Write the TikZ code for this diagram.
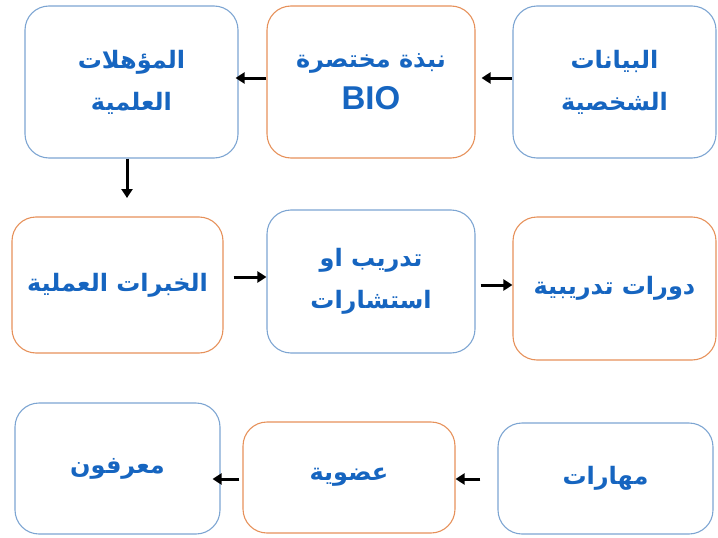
\documentclass[tikz,border=0pt]{standalone}
\usepackage{fontspec}
\usetikzlibrary{arrows.meta,calc}
\TeXXeTstate=1
\newfontfamily\arabicfont[Script=Arabic]{DejaVu Sans}
\newfontfamily\latinfont{Liberation Sans}
\definecolor{txtblue}{RGB}{22,101,192}
\definecolor{bblue}{RGB}{125,165,210}
\definecolor{borange}{RGB}{230,145,90}
\tikzset{
  box/.style={draw, rounded corners=24pt, line width=1.1pt, inner sep=0pt,
    align=center, text=txtblue,
    font=\arabicfont\bfseries\fontsize{24}{42}\selectfont},
  bluebox/.style={box, draw=bblue},
  orangebox/.style={box, draw=borange},
  arr/.style={line width=3pt, -{Triangle[length=9pt,width=11pt]}}
}
\begin{document}
\begin{tikzpicture}[x=1pt,y=-1pt]
\useasboundingbox (0,0) rectangle (718,538);
% row 1
\node[bluebox, minimum width=213pt, minimum height=152pt] (A) at (131.5,82)
  {\beginR المؤهلات\endR\\\beginR العلمية\endR};
\node[orangebox, minimum width=208pt, minimum height=152pt] (B) at (371,82)
  {\beginR نبذة مختصرة\endR\\{\latinfont\bfseries\fontsize{33}{42}\selectfont BIO}};
\node[bluebox, minimum width=203pt, minimum height=152pt] (C) at (614.5,82)
  {\beginR البيانات\endR\\\beginR الشخصية\endR};
% row 2
\node[orangebox, minimum width=211pt, minimum height=136pt] (D) at (117.5,285)
  {\beginR الخبرات العملية\endR};
\node[bluebox, minimum width=208pt, minimum height=143pt] (E) at (371,281.5)
  {\beginR تدريب او\endR\\\beginR استشارات\endR};
\node[orangebox, minimum width=203pt, minimum height=143pt] (F) at (614.5,288.5)
  {\beginR دورات تدريبية\endR};
% row 3
\node[bluebox, minimum width=205pt, minimum height=131pt] (G) at (117.5,468.5)
  {\beginR معرفون\endR};
\node[orangebox, minimum width=212pt, minimum height=111pt] (H) at (349,477.5)
  {\raisebox{6pt}{\beginR عضوية\endR}};
\node[bluebox, minimum width=215pt, minimum height=111pt] (I) at (605.5,478.5)
  {\beginR مهارات\endR};
% connectors
\coordinate (dtip) at (127,198);
\draw[arr] ([yshift=4pt]C.west) -- ([xshift=6pt,yshift=4pt]B.east);
\draw[arr] ([yshift=4pt]B.west) -- ([xshift=-3pt,yshift=4pt]A.east);
\draw[arr] ([xshift=-4.5pt]A.south) -- (dtip);
\draw[arr] ([xshift=10pt,yshift=8pt]D.east) -- ([yshift=4.5pt]E.west);
\draw[arr] ([xshift=5pt,yshift=-3.5pt]E.east) -- ([yshift=3.5pt]F.west);
\draw[arr] ([xshift=-17pt,yshift=-0.5pt]I.west) -- ([yshift=-1.5pt]H.east);
\draw[arr] ([xshift=-3pt,yshift=-1.5pt]H.west) -- ([xshift=-8pt,yshift=-10.5pt]G.east);
\end{tikzpicture}
\end{document}
